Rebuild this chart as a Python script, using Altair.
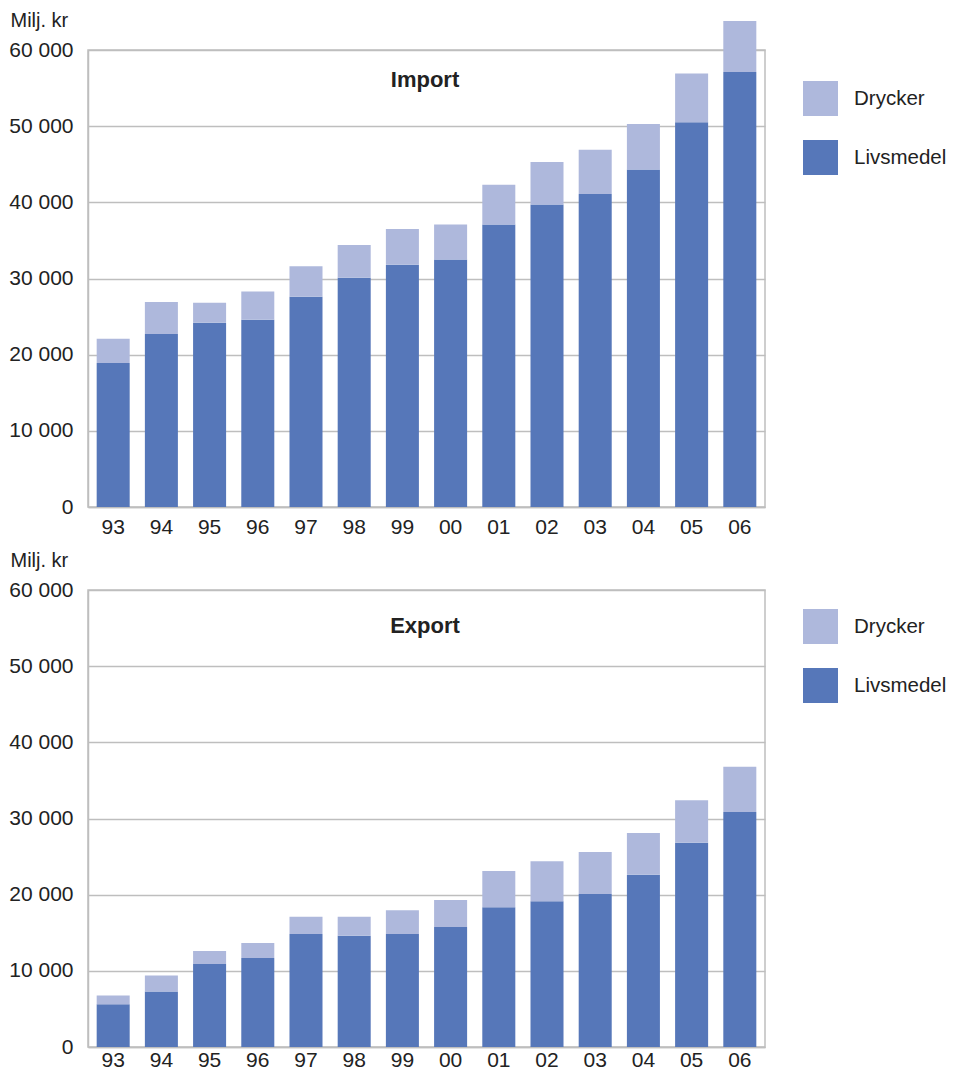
import altair as alt
import pandas as pd

years = ["93", "94", "95", "96", "97", "98", "99", "00", "01", "02", "03", "04", "05", "06"]

import_livsmedel = [18900, 22700, 24200, 24600, 27600, 30100, 31800, 32500, 37100, 39700, 41100, 44300, 50500, 57100]
import_drycker = [3200, 4200, 2600, 3700, 4000, 4300, 4700, 4600, 5200, 5600, 5800, 6000, 6400, 6700]

export_livsmedel = [5600, 7300, 10900, 11700, 14850, 14600, 14850, 15750, 18350, 19150, 20100, 22600, 26800, 30850]
export_drycker = [1150, 2100, 1700, 1950, 2250, 2500, 3100, 3550, 4750, 5250, 5500, 5500, 5600, 5950]

series = ["Drycker", "Livsmedel"]
colors = ["#AEB8DC", "#5677B9"]
y_ticks = [0, 10000, 20000, 30000, 40000, 50000, 60000]

FONT = "Liberation Sans"
GRID = "#BEBEBE"
TXT = "#222222"


def panel(title, liv, dry, title_y, legend_y, xpad):
    rows = []
    for yr, l, d in zip(years, liv, dry):
        rows.append({"year": yr, "serie": "Livsmedel", "value": l, "o": 0})
        rows.append({"year": yr, "serie": "Drycker", "value": d, "o": 1})
    df = pd.DataFrame(rows)
    bars = alt.Chart(df).mark_bar().encode(
        x=alt.X(
            "year:N",
            sort=years,
            scale=alt.Scale(paddingInner=0.315, paddingOuter=0.18),
            axis=alt.Axis(title=None, labelAngle=0, ticks=False, labelPadding=xpad,
                          grid=False, domainColor=GRID, domainWidth=1.5,
                          labelFontSize=21, labelColor=TXT, labelFont=FONT),
        ),
        y=alt.Y(
            "value:Q",
            stack="zero",
            scale=alt.Scale(domain=[0, 60000], nice=False),
            axis=alt.Axis(
                values=y_ticks,
                title="Milj. kr",
                titleAngle=0,
                titleX=-78,
                titleY=-24,
                titleAlign="left",
                titleBaseline="alphabetic",
                titleFont=FONT,
                titleFontSize=20,
                titleFontWeight="normal",
                titleColor=TXT,
                labelExpr="replace(format(datum.value, ','), ',', ' ')",
                ticks=False,
                labelPadding=15,
                labelFontSize=21,
                labelFont=FONT,
                labelColor=TXT,
                domainColor=GRID,
                domainWidth=1.5,
                gridColor=GRID,
                gridWidth=1.5,
            ),
        ),
        color=alt.Color(
            "serie:N",
            scale=alt.Scale(domain=series, range=colors),
            legend=alt.Legend(
                title=None,
                orient="none",
                legendX=715,
                legendY=legend_y,
                symbolType="square",
                symbolSize=1225,
                symbolStrokeWidth=0,
                symbolOpacity=1,
                labelFontSize=20.5,
                labelFont=FONT,
                labelColor=TXT,
                labelOffset=16,
                rowPadding=24,
                padding=0,
            ),
        ),
        order=alt.Order("o:Q"),
    )
    txt = alt.Chart(pd.DataFrame({"t": [title]})).mark_text(
        font=FONT, fontSize=22, fontWeight="bold", color=TXT,
        baseline="alphabetic", align="center",
    ).encode(text="t:N", x=alt.value(337), y=alt.value(title_y))
    return alt.layer(bars, txt).properties(width=677, height=457).resolve_scale(color="independent")


top = panel("Import", import_livsmedel, import_drycker, 37, 31, 9)
bottom = panel("Export", export_livsmedel, export_drycker, 43, 19, 2)

chart = alt.vconcat(top, bottom, spacing=11).resolve_scale(color="independent").properties(
    padding={"left": 0, "top": 1, "right": 0, "bottom": 0}
).configure_view(stroke=GRID, strokeWidth=1.5)

chart.save("out.html", embed_options={"renderer": "svg", "actions": False})
